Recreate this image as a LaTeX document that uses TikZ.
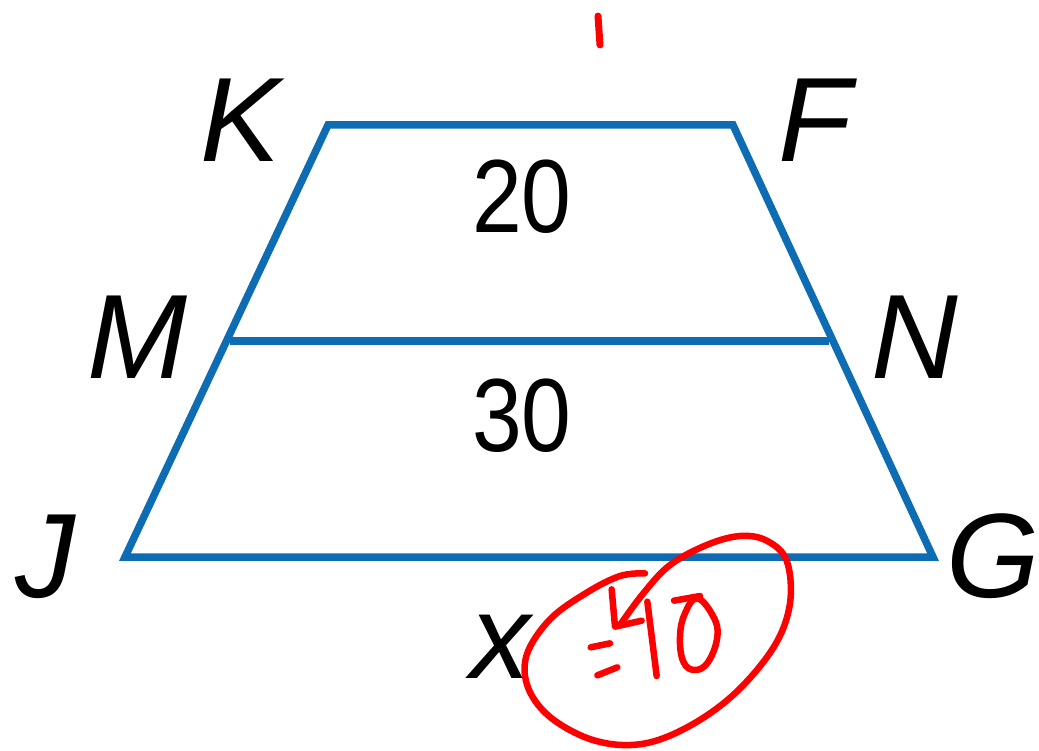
\documentclass[tikz,border=0pt]{standalone}
\usepackage{fontspec}
\setmainfont{Liberation Sans}
\begin{document}
\begin{tikzpicture}[x=1pt,y=-1pt,
  edge/.style={draw={rgb,255:red,14;green,108;blue,178}, line width=7.5pt, line join=miter},
  vlabel/.style={font=\fontsize{120}{120}\selectfont\itshape, anchor=base, inner sep=0pt},
  num/.style={font=\fontsize{104}{104}\selectfont, anchor=base, inner sep=0pt, xscale=0.86},
  ink/.style={draw=red, line width=6.5pt, line cap=round, line join=round}]
\useasboundingbox (0,0) rectangle (1039,751);
\coordinate (K) at (328,125);
\coordinate (F) at (733,125);
\coordinate (M) at (230,341);
\coordinate (N) at (829,341);
\coordinate (J) at (125,557);
\coordinate (G) at (933,557);
\draw[edge] (K) -- (F) -- (G) -- (J) -- cycle;
\draw[edge] (M) -- (N);
\node[vlabel] (lK) at (241,162) {K};
\node[vlabel] (lF) at (815,162) {F};
\node[vlabel] (lM) at (137,378) {M};
\node[vlabel] (lN) at (915,378) {N};
\node[vlabel] (lJ) at (45,597) {J};
\node[vlabel] (lG) at (993,597) {G};
\node[vlabel] (lx) at (500,678) {x};
\node[num] (t20) at (522,233) {20};
\node[num] (t30) at (522,451) {30};
% red annotations
\draw[ink, line width=7pt] (598,16) -- (600,45);
\begin{scope}[shift={(500,530)}, scale=1/3]
\draw[ink] plot[smooth, tension=0.6] coordinates {
 (435,130) (360,138) (260,188) (150,268) (80,375) (85,475) (155,565) (285,632)
 (425,642) (565,590) (705,490) (822,350) (870,220) (860,92) (800,32) (720,18)
 (620,45) (510,105) (430,190) (360,285)};
\draw[ink] (335,178) -- (345,290) -- (425,272);
\draw[ink] (442,215) -- (470,438);
\draw[ink] (272,352) -- (330,340);
\draw[ink] (292,436) -- (352,412);
\draw[ink] (522,212) -- (600,198);
\draw[ink] plot[smooth cycle, tension=0.7] coordinates {
 (592,205) (640,260) (652,320) (625,395) (585,420) (550,395) (540,320) (555,250)};
\end{scope}
\end{tikzpicture}
\end{document}
